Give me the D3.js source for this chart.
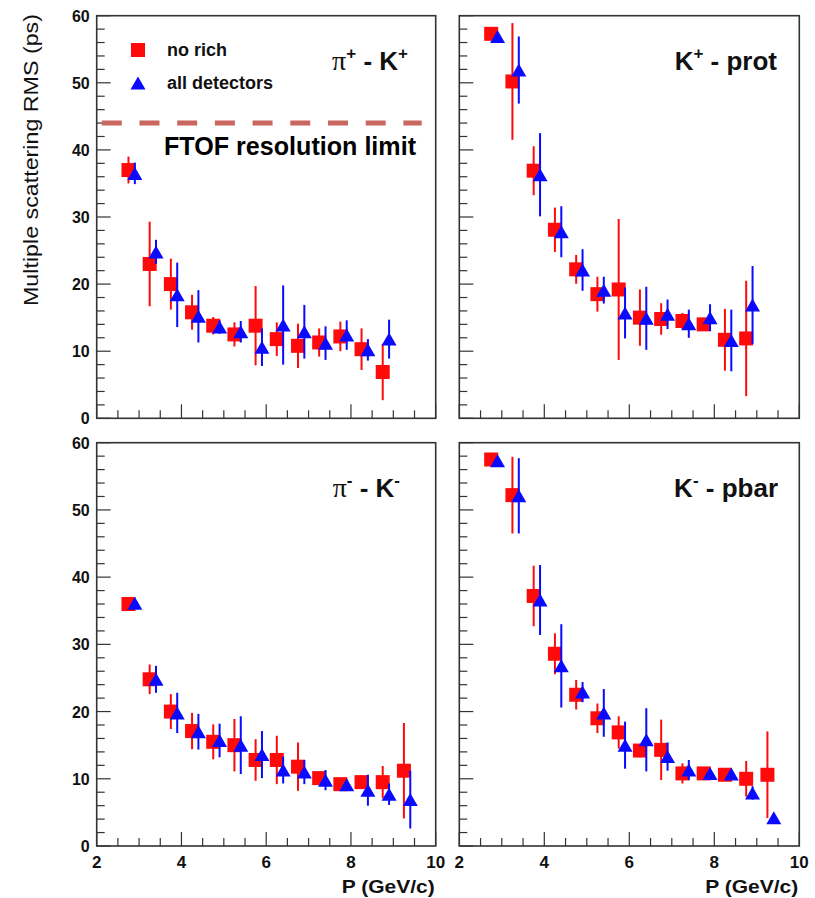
<!DOCTYPE html>
<html>
<head>
<meta charset="utf-8">
<script src="https://cdn.jsdelivr.net/npm/d3@7"></script>
<style>
  body { margin: 0; background: #fff; }
  svg { display: block; }
  text { font-family: "Liberation Sans", Arial, Helvetica, sans-serif; }
</style>
</head>
<body>
<svg id="chart" width="815" height="898"></svg>
<script>
// ---------------- DATA ----------------
const yTickValues = [0, 10, 20, 30, 40, 50, 60];
const xTickLabels = [2, 4, 6, 8, 10];
const seriesNames = ["no rich", "all detectors"];
const panelTitles = ["π+ - K+", "K+ - prot", "π- - K-", "K- - pbar"];
const ftofLimit = 44;
const ftofLabel = "FTOF resolution limit";
const yAxisTitle = "Multiple scattering RMS (ps)";
const xAxisTitle = "P (GeV/c)";

// P values (GeV/c)
const pRed13  = [2.75, 3.25, 3.75, 4.25, 4.75, 5.25, 5.75, 6.25, 6.75, 7.25, 7.75, 8.25, 8.75];
const pBlue13 = [2.9, 3.4, 3.9, 4.4, 4.9, 5.4, 5.9, 6.4, 6.9, 7.4, 7.9, 8.4, 8.9];
const pRed14  = [2.75, 3.25, 3.75, 4.25, 4.75, 5.25, 5.75, 6.25, 6.75, 7.25, 7.75, 8.25, 8.75, 9.25];
const pBlue14 = [2.9, 3.4, 3.9, 4.4, 4.9, 5.4, 5.9, 6.4, 6.9, 7.4, 7.9, 8.4, 8.9, 9.4];

// pi+ - K+
const piPlusRed     = [37.0, 23.0, 20.0, 15.8, 13.8, 12.5, 13.8, 11.8, 10.8, 11.3, 12.2, 10.3, 6.9];
const piPlusRedErr  = [2.0, 6.3, 3.8, 2.6, 1.3, 1.8, 5.9, 2.5, 3.3, 2.1, 2.2, 3.1, 4.2];
const piPlusBlue    = [36.5, 24.8, 18.4, 15.2, 13.6, 12.9, 10.6, 13.9, 12.9, 11.2, 12.4, 10.2, 11.8];
const piPlusBlueErr = [1.6, 1.8, 4.8, 3.9, 1.0, 1.6, 2.8, 5.9, 4.0, 2.5, 2.2, 1.6, 2.9];

// K+ - prot
const kPlusRed      = [57.3, 50.2, 36.9, 28.1, 22.2, 18.5, 19.2, 15.0, 14.8, 14.5, 14.0, 11.7, 11.9];
const kPlusRedErr   = [0.3, 8.7, 3.65, 3.3, 2.15, 2.6, 10.5, 4.2, 2.35, 1.2, 0.9, 4.6, 8.6];
const kPlusBlue     = [56.9, 51.9, 36.3, 27.8, 22.1, 19.1, 15.7, 14.9, 15.5, 14.1, 15.0, 11.6, 16.9];
const kPlusBlueErr  = [0.3, 5.0, 6.2, 3.8, 3.1, 2.0, 3.8, 4.7, 2.2, 2.1, 2.0, 4.6, 5.8];

// pi- - K-
const piMinusRed     = [36.0, 24.8, 20.0, 17.1, 15.5, 15.0, 12.8, 12.8, 11.8, 10.1, 9.2, 9.5, 9.5, 11.2];
const piMinusRedErr  = [0.4, 2.2, 2.6, 2.7, 2.6, 3.9, 3.1, 3.6, 3.6, 1.0, 0.6, 1.0, 2.4, 7.1];
const piMinusBlue    = [36.1, 24.8, 19.8, 17.0, 15.7, 15.0, 13.6, 11.3, 11.0, 9.8, 9.1, 8.3, 7.7, 6.9];
const piMinusBlueErr = [0.4, 2.0, 3.0, 2.65, 2.5, 4.3, 3.5, 2.0, 1.8, 1.5, 0.6, 2.3, 1.6, 4.3];

// K- - pbar
const kMinusRed      = [57.5, 52.2, 37.2, 28.6, 22.5, 19.0, 16.9, 14.2, 14.3, 10.8, 10.8, 10.6, 10.0, 10.6];
const kMinusRedErr   = [0.3, 5.7, 4.5, 3.05, 2.2, 2.2, 2.4, 1.0, 4.5, 1.5, 0.6, 0.6, 2.65, 6.45];
const kMinusBlue     = [57.3, 52.1, 36.6, 26.8, 22.9, 19.8, 15.0, 15.8, 13.3, 11.3, 10.8, 10.7, 7.9, 4.2];
const kMinusBlueErr  = [0.3, 5.6, 5.2, 6.2, 1.5, 3.55, 3.5, 4.7, 2.1, 1.5, 0.6, 0.6, 1.0, 0.3];

// ---------------- DRAW ----------------
const svg = d3.select("#chart");
svg.append("rect").attr("width", 815).attr("height", 898).attr("fill", "#fff");

const RED = "#ff0a0a", BLUE = "#0a0aff";

const panels = [
  { x0: 96.7, x1: 435.7, y0: 15.7, y1: 418.3, title: panelTitles[0], showY: true, showX: false,
    red: [pRed13, piPlusRed, piPlusRedErr], blue: [pBlue13, piPlusBlue, piPlusBlueErr], legend: true, titleX: 408 },
  { x0: 459.3, x1: 799.3, y0: 15.7, y1: 418.3, title: panelTitles[1], showY: false, showX: false,
    red: [pRed13, kPlusRed, kPlusRedErr], blue: [pBlue13, kPlusBlue, kPlusBlueErr], titleX: 777 },
  { x0: 96.7, x1: 435.7, y0: 442.7, y1: 846, title: panelTitles[2], showY: true, showX: true,
    red: [pRed14, piMinusRed, piMinusRedErr], blue: [pBlue14, piMinusBlue, piMinusBlueErr], titleX: 400 },
  { x0: 459.3, x1: 799.3, y0: 442.7, y1: 846, title: panelTitles[3], showY: false, showX: true,
    red: [pRed14, kMinusRed, kMinusRedErr], blue: [pBlue14, kMinusBlue, kMinusBlueErr], titleX: 778 }
];

const sq = 14;
function trianglePath(cx, cy) {
  const hw = 7.5, h = 13;
  return `M${cx},${cy - h / 2}L${cx + hw},${cy + h / 2}L${cx - hw},${cy + h / 2}Z`;
}

panels.forEach((p, idx) => {
  const x = d3.scaleLinear().domain([2, 10]).range([p.x0, p.x1]);
  const y = d3.scaleLinear().domain([0, 60]).range([p.y1, p.y0]);
  const g = svg.append("g");

  // ticks (inside) - y axis
  const yMinor = d3.range(0, 61, 2);
  g.selectAll(".ytick").data(yMinor).enter().append("line")
    .attr("x1", p.x0).attr("x2", d => p.x0 + (d % 10 === 0 ? 14 : 8))
    .attr("y1", d => y(d)).attr("y2", d => y(d))
    .attr("stroke", "#333").attr("stroke-width", 1.2);
  const xMinor = d3.range(2, 10.01, 0.5);
  g.selectAll(".xtick").data(xMinor).enter().append("line")
    .attr("x1", d => x(d)).attr("x2", d => x(d))
    .attr("y1", p.y1).attr("y2", d => p.y1 - (Math.abs(d % 2) < 1e-6 ? 14 : 8))
    .attr("stroke", "#333").attr("stroke-width", 1.2);

  // frame
  g.append("rect").attr("x", p.x0).attr("y", p.y0)
    .attr("width", p.x1 - p.x0).attr("height", p.y1 - p.y0)
    .attr("fill", "none").attr("stroke", "#333").attr("stroke-width", 1.6);

  if (p.showY) {
    g.selectAll(".ylab").data(yTickValues).enter().append("text")
      .attr("x", p.x0 - 7).attr("y", d => y(d) + 6)
      .attr("text-anchor", "end").attr("font-size", 16).attr("font-weight", "bold")
      .attr("fill", "#111").text(d => d);
  }
  if (p.showX) {
    g.selectAll(".xlab").data(xTickLabels).enter().append("text")
      .attr("x", d => x(d)).attr("y", p.y1 + 22)
      .attr("text-anchor", "middle").attr("font-size", 17).attr("font-weight", "bold")
      .attr("fill", "#111").text(d => d);
    g.append("text").attr("x", p.x1 - 94).attr("y", p.y1 + 47)
      .attr("font-size", 19).attr("font-weight", "bold")
      .attr("textLength", 93).attr("lengthAdjust", "spacingAndGlyphs")
      .attr("fill", "#111").text(xAxisTitle);
  }

  // series
  function drawSeries(arr, color, marker) {
    const [px, py, pe] = arr;
    const pts = px.map((v, i) => ({ p: v, v: py[i], e: pe[i] }));
    g.selectAll(null).data(pts).enter().append("line")
      .attr("x1", d => x(d.p)).attr("x2", d => x(d.p))
      .attr("y1", d => y(d.v + d.e)).attr("y2", d => y(d.v - d.e))
      .attr("stroke", color).attr("stroke-width", 2);
    if (marker === "square") {
      g.selectAll(null).data(pts).enter().append("rect")
        .attr("x", d => x(d.p) - sq / 2).attr("y", d => y(d.v) - sq / 2)
        .attr("width", sq).attr("height", sq).attr("fill", color);
    } else {
      g.selectAll(null).data(pts).enter().append("path")
        .attr("d", d => trianglePath(x(d.p), y(d.v))).attr("fill", color);
    }
  }
  drawSeries(p.red, RED, "square");
  drawSeries(p.blue, BLUE, "triangle");

  // title
  const parts = p.title.split(" - ");
  const t = g.append("text").attr("x", p.titleX).attr("y", p.y0 + 54)
    .attr("text-anchor", "end").attr("font-size", 26).attr("font-weight", "bold").attr("fill", "#111");
  function addPart(s) {
    const base = s.slice(0, -1), sup = s.slice(-1);
    if (base === "π") {
      t.append("tspan").attr("font-family", "'Liberation Serif', 'Times New Roman', serif")
        .attr("font-weight", "normal").attr("font-size", 28).text(base);
    } else {
      t.append("tspan").text(base);
    }
    t.append("tspan").attr("dy", -11).attr("font-size", 17).text(sup);
    return 11;
  }
  if (parts[0].endsWith("+") || parts[0].endsWith("-")) {
    const d1 = addPart(parts[0]);
    t.append("tspan").attr("dy", d1).text(" - ");
  }
  if (parts[1].endsWith("+") || parts[1].endsWith("-")) {
    addPart(parts[1]);
  } else {
    t.append("tspan").text(parts[1]);
  }

  if (p.legend) {
    const lx = 138;
    g.append("rect").attr("x", lx - sq / 2).attr("y", 50 - sq / 2).attr("width", sq).attr("height", sq).attr("fill", RED);
    g.append("path").attr("d", trianglePath(lx, 83)).attr("fill", BLUE);
    g.append("text").attr("x", 167).attr("y", 56).attr("font-size", 18).attr("font-weight", "bold")
      .attr("fill", "#111").text(seriesNames[0]);
    g.append("text").attr("x", 167).attr("y", 89).attr("font-size", 18).attr("font-weight", "bold")
      .attr("fill", "#111").text(seriesNames[1]);

    // FTOF limit line
    g.append("line").attr("x1", x(2.12)).attr("x2", x(9.67))
      .attr("y1", y(ftofLimit)).attr("y2", y(ftofLimit))
      .attr("stroke", "#c9665e").attr("stroke-width", 5)
      .attr("stroke-dasharray", "20,17.7");
    g.append("text").attr("x", 164).attr("y", 155)
      .attr("font-family", "Lato, 'Open Sans', sans-serif").attr("font-weight", "bold")
      .attr("font-size", 25).attr("fill", "#000")
      .attr("textLength", 252).attr("lengthAdjust", "spacingAndGlyphs")
      .text(ftofLabel);
  }
});

// y axis title
svg.append("text")
  .attr("transform", "translate(38,160) rotate(-90)")
  .attr("text-anchor", "middle")
  .attr("font-family", "'Liberation Sans Narrow', 'Arial Narrow', 'Liberation Sans', sans-serif")
  .attr("font-size", 21).attr("fill", "#111")
  .attr("textLength", 292).attr("lengthAdjust", "spacingAndGlyphs")
  .text(yAxisTitle);
</script>
</body>
</html>
